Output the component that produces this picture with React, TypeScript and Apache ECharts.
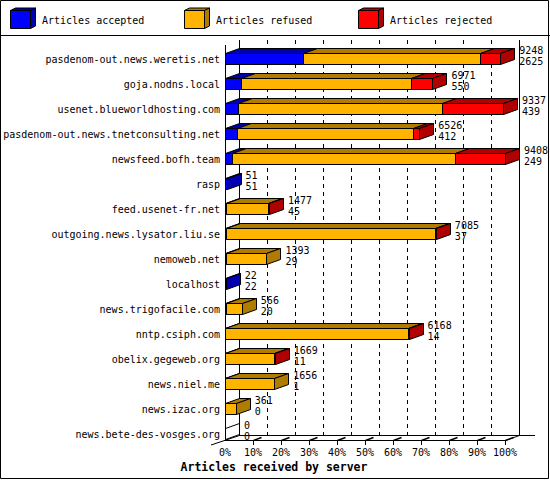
import React, { useEffect, useRef } from "react";
import * as echarts from "echarts";

const hosts = [
  "pasdenom-out.news.weretis.net",
  "goja.nodns.local",
  "usenet.blueworldhosting.com",
  "pasdenom-out.news.tnetconsulting.net",
  "newsfeed.bofh.team",
  "rasp",
  "feed.usenet-fr.net",
  "outgoing.news.lysator.liu.se",
  "nemoweb.net",
  "localhost",
  "news.trigofacile.com",
  "nntp.csiph.com",
  "obelix.gegeweb.org",
  "news.niel.me",
  "news.izac.org",
  "news.bete-des-vosges.org",
];
const accepted = [2625, 550, 439, 412, 249, 51, 45, 37, 29, 22, 20, 14, 11, 1, 0, 0];
const refused = [5950, 5695, 6860, 5920, 7490, 0, 1402, 7010, 1364, 0, 546, 6120, 1630, 1655, 361, 0];
const rejected = [673, 726, 2038, 194, 1669, 0, 30, 38, 0, 0, 0, 34, 28, 0, 0, 0];

const seriesNames = ["Articles accepted", "Articles refused", "Articles rejected"];
const frontColors = ["#0000ff", "#ffb400", "#ff0000"];
const darkColors = ["#0000b0", "#b07c00", "#b00000"];

const xTitle = "Articles received by server";

const MONO = "'DejaVu Sans Mono', monospace";
const DX = 14;
const DY = 5;

// plot layout constants
const PL = 225; // front left
const PW = 280; // front width
const FRONT_TOP = 45;
const FRONT_BOTTOM = 440;

export default function App() {
  const ref = useRef<HTMLDivElement>(null);

  useEffect(() => {
    document.body.style.margin = "0";
    if (!ref.current) return;
    const chart = echarts.init(ref.current, null, { renderer: "svg" });

    const totals = hosts.map((_, i) => accepted[i] + refused[i] + rejected[i]);
    const maxTotal = Math.max(...totals);

    const data = hosts.map((_, i) => [i, accepted[i], refused[i], rejected[i]]);

    const px = (v: number) => Math.round(v) + 0.5;

    const renderItem = (params: any, api: any) => {
      const row = api.value(0);
      const vals = [api.value(1), api.value(2), api.value(3)];
      const cum = [0, vals[0], vals[0] + vals[1], vals[0] + vals[1] + vals[2]];
      const c = api.coord([0, row])[1];
      const yt = px(c - 6);
      const yb = px(c + 5);
      const xs = cum.map((v) => px(api.coord([v, row])[0]));
      const children: any[] = [];
      let last = -1;
      for (let s = 0; s < 3; s++) {
        if (vals[s] <= 0) continue;
        last = s;
        const x0 = xs[s];
        const x1 = xs[s + 1];
        children.push({
          type: "polygon",
          shape: { points: [[x0, yt], [x1, yt], [x1 + DX, yt - DY], [x0 + DX, yt - DY]] },
          style: { fill: darkColors[s], stroke: "#000", lineWidth: 1 },
        });
        children.push({
          type: "rect",
          shape: { x: x0, y: yt, width: Math.max(x1 - x0, 0), height: yb - yt },
          style: { fill: frontColors[s], stroke: "#000", lineWidth: 1 },
        });
      }
      const xe = xs[3];
      if (last >= 0) {
        children.push({
          type: "polygon",
          shape: { points: [[xe, yt], [xe + DX, yt - DY], [xe + DX, yb - DY], [xe, yb]] },
          style: { fill: darkColors[last], stroke: "#000", lineWidth: 1 },
        });
      } else {
        children.push({
          type: "polygon",
          shape: { points: [[xe, yt], [xe + DX, yt - DY], [xe + DX, yb - DY], [xe, yb]] },
          style: { fill: "none", stroke: "#000", lineWidth: 1 },
        });
      }
      const total = cum[3];
      children.push({
        type: "text",
        x: api.coord([total, row])[0] + DX + 5,
        y: c - 14.5,
        style: {
          text: total + "\n" + vals[0],
          fill: "#000",
          font: "10px " + MONO,
          lineHeight: 11,
          verticalAlign: "top",
          textAlign: "left",
        },
      });
      return { type: "group", children };
    };

    const graphic: any[] = [];
    // outer border
    graphic.push({
      type: "rect",
      z: 1,
      shape: { x: 0.5, y: 0.5, width: 548, height: 478 },
      style: { fill: "none", stroke: "#000", lineWidth: 1 },
    });
    // legend separator
    graphic.push({
      type: "line",
      z: 1,
      shape: { x1: 0, y1: 35.5, x2: 550, y2: 35.5 },
      style: { stroke: "#000", lineWidth: 1 },
    });
    // legend cubes
    const legendX = [10, 184, 358];
    seriesNames.forEach((name, i) => {
      const x0 = legendX[i] + 0.5;
      const y0 = 10.5;
      const w = 20;
      const h = 18;
      const dx = 5;
      const dy = 2.5;
      graphic.push({
        type: "polygon",
        z: 1,
        shape: { points: [[x0, y0], [x0 + w, y0], [x0 + w + dx, y0 - dy], [x0 + dx, y0 - dy]] },
        style: { fill: darkColors[i], stroke: "#000", lineWidth: 1 },
      });
      graphic.push({
        type: "polygon",
        z: 1,
        shape: { points: [[x0 + w, y0], [x0 + w + dx, y0 - dy], [x0 + w + dx, y0 + h - dy], [x0 + w, y0 + h]] },
        style: { fill: darkColors[i], stroke: "#000", lineWidth: 1 },
      });
      graphic.push({
        type: "rect",
        z: 1,
        shape: { x: x0, y: y0, width: w, height: h },
        style: { fill: frontColors[i], stroke: "#000", lineWidth: 1 },
      });
      graphic.push({
        type: "text",
        z: 1,
        x: legendX[i] + 32,
        y: 20,
        style: { text: name, fill: "#000", font: "10px " + MONO, verticalAlign: "middle" },
      });
    });

    const line = (x1: number, y1: number, x2: number, y2: number) => ({
      type: "line",
      z: 1,
      shape: { x1, y1, x2, y2 },
      style: { stroke: "#000", lineWidth: 1 },
    });
    const BL = PL + DX;
    const BT = FRONT_TOP - DY;
    const BB = FRONT_BOTTOM - DY;
    // back wall and floor
    graphic.push(line(BL + 0.5, BT, BL + 0.5, BB + 0.5));
    graphic.push(line(BL + PW + 0.5, BT, BL + PW + 0.5, BB + 0.5));
    graphic.push(line(BL, BB + 0.5, BL + PW + 16, BB + 0.5));
    // front axes
    graphic.push(line(PL + 0.5, FRONT_TOP, PL + 0.5, FRONT_BOTTOM + 0.5));
    graphic.push(line(PL, FRONT_BOTTOM + 0.5, PL + PW, FRONT_BOTTOM + 0.5));
    graphic.push(line(PL + PW + 0.5, FRONT_BOTTOM + 0.5, PL + PW + DX + 0.5, BB + 0.5));
    graphic.push(line(PL - 14, FRONT_BOTTOM + 5, BL + 0.5, BB + 0.5));
    for (let i = 1; i <= 10; i++) {
      const x = PL + (PW * i) / 10 + 0.5;
      graphic.push(line(x, FRONT_BOTTOM, x, FRONT_BOTTOM + 5));
      graphic.push({
        type: "line",
        z: 1,
        shape: { x1: x, y1: FRONT_BOTTOM + 0.5, x2: x + 8, y2: FRONT_BOTTOM - 2.5 },
        style: { stroke: "#000", lineWidth: 1.5 },
      });
    }
    // x axis title
    graphic.push({
      type: "text",
      z: 1,
      x: 274,
      y: 467,
      style: {
        text: xTitle,
        fill: "#000",
        font: "bold 11.5px " + MONO,
        textAlign: "center",
        verticalAlign: "middle",
      },
    });

    const pctFormatter = (v: number) => Math.round((v / maxTotal) * 100) + "%";

    chart.setOption({
      animation: false,
      grid: [
        { left: PL, top: 46.5, width: PW, height: 400 },
        { left: PL + DX, top: BT, width: PW, height: BB - BT },
      ],
      xAxis: [
        {
          gridIndex: 0,
          type: "value",
          min: 0,
          max: maxTotal,
          interval: maxTotal / 10,
          axisLine: { show: false },
          axisTick: { show: false },
          splitLine: { show: false },
          axisLabel: {
            formatter: pctFormatter,
            margin: 1,
            fontSize: 10,
            fontFamily: MONO,
            color: "#000",
            showMinLabel: true,
            showMaxLabel: true,
          },
        },
        {
          gridIndex: 1,
          type: "value",
          min: 0,
          max: maxTotal,
          interval: maxTotal / 10,
          axisLine: { show: false },
          axisTick: { show: false },
          axisLabel: { show: false },
          splitLine: { show: true, lineStyle: { color: "#000", width: 1, type: [4, 4] } },
        },
      ],
      yAxis: [
        {
          gridIndex: 0,
          type: "category",
          data: hosts,
          inverse: true,
          axisLine: { show: false },
          axisTick: { show: false },
          splitLine: { show: false },
          axisLabel: { interval: 0, margin: 5, fontSize: 10, fontFamily: MONO, color: "#000" },
        },
        { gridIndex: 1, type: "value", min: 0, max: 1, show: false },
      ],
      series: [
        {
          type: "custom",
          xAxisIndex: 0,
          yAxisIndex: 0,
          renderItem,
          data,
          z: 3,
          clip: false,
        },
      ],
      graphic,
    });

    return () => chart.dispose();
  }, []);

  return <div ref={ref} style={{ width: 550, height: 480, background: "#fff" }} />;
}
